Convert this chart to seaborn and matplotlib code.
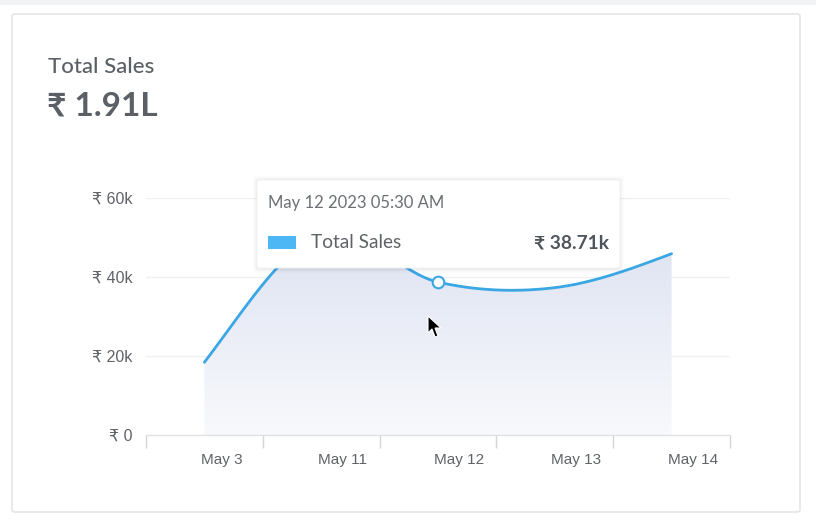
import numpy as np
import pandas as pd
import matplotlib
matplotlib.use("Agg")
import matplotlib.pyplot as plt
import matplotlib.transforms as mtransforms
from matplotlib.patches import FancyBboxPatch, Polygon, Rectangle
import seaborn as sns

# ---- data ----
dates = ["May 3", "May 11", "May 12", "May 13", "May 14"]
sales = [18400, 50700, 38710, 37300, 45900]
yticks = [0, 20000, 40000, 60000]
ytick_labels = ["₹ 0", "₹ 20k", "₹ 40k", "₹ 60k"]
title = "Total Sales"
total_label = "₹ 1.91L"
tip_date = "May 12 2023 05:30 AM"
tip_series = "Total Sales"
tip_value = "₹ 38.71k"
hover_idx = 2

sns.set_theme(style="white")
plt.rcParams["font.family"] = ["Liberation Sans", "DejaVu Sans"]
LATO = ["Lato", "DejaVu Sans"]

W, H = 816, 524
fig = plt.figure(figsize=(W / 100, H / 100), dpi=100)
fig.patch.set_facecolor("white")

def fx(x): return x / W
def fy(y): return 1 - y / H

# card & neighbouring card edges
fig.patches.append(Rectangle((0, fy(5)), 1, 5 / H, transform=fig.transFigure,
                             facecolor="#f1f2f4", edgecolor="none", zorder=-2))
fig.patches.append(FancyBboxPatch((fx(12), fy(512)), fx(800) - fx(12), fy(14) - fy(512),
                                  boxstyle="round,pad=0,rounding_size=0.004",
                                  transform=fig.transFigure, facecolor="white",
                                  edgecolor="#e3e5e8", linewidth=1.2, zorder=-1))

# axes
x0, x1, ytop, ybot = 146, 730, 198, 435
ax = fig.add_axes([fx(x0), fy(ybot), fx(x1) - fx(x0), fy(ytop) - fy(ybot)])
ax.set_facecolor("none")
ax.set_zorder(1)
n = len(dates)
xs = np.arange(n)

# smooth cubic (cardinal) rendering through the data points
y = np.array(sales, dtype=float)
m = np.zeros(n)
m[1:-1] = (y[2:] - y[:-2]) / 2
m[0] = (y[1] - y[0]) * 1.2
m[-1] = (y[-1] - y[-2]) * 1.3
sx, sy = [], []
for i in range(n - 1):
    t = np.linspace(0, 1, 50, endpoint=(i == n - 2))
    h00 = 2 * t**3 - 3 * t**2 + 1
    h10 = t**3 - 2 * t**2 + t
    h01 = -2 * t**3 + 3 * t**2
    h11 = t**3 - t**2
    sx.append(i + t)
    sy.append(h00 * y[i] + h10 * m[i] + h01 * y[i + 1] + h11 * m[i + 1])
sx = np.concatenate(sx)
sy = np.concatenate(sy)
curve = pd.DataFrame({"x": sx, "y": sy})

# gradient area fill
grad = np.linspace(0, 1, 256).reshape(-1, 1)
cmap = matplotlib.colors.LinearSegmentedColormap.from_list("g", ["#f8f9fc", "#d9dff0"])
im = ax.imshow(grad, extent=[0, n - 1, 0, 60000], origin="lower", aspect="auto",
               cmap=cmap, zorder=1)
poly = Polygon(np.column_stack([np.r_[sx, sx[-1], sx[0]], np.r_[sy, 0, 0]]),
               closed=True, transform=ax.transData, facecolor="none", edgecolor="none")
ax.add_patch(poly)
im.set_clip_path(poly)

sns.lineplot(data=curve, x="x", y="y", ax=ax, color="#3aa7e4", linewidth=2, zorder=3)
ax.set_xlabel("")
ax.set_ylabel("")
ax.set_xlim(-0.5, n - 0.5)
ax.set_ylim(0, 60000)

# grid & axes style
ax.set_yticks(yticks)
ax.set_yticklabels(ytick_labels)
for v in yticks[1:]:
    ax.axhline(v, color="#eff0f2", linewidth=1, zorder=0.5)
ax.tick_params(axis="y", length=0, pad=9.5, labelsize=11.5, labelcolor="#5f6368")
for s in ["top", "right", "left"]:
    ax.spines[s].set_visible(False)
ax.spines["bottom"].set_color("#e0e2e5")
ax.spines["bottom"].set_linewidth(1)

ax.set_xticks(xs)
ax.set_xticklabels(dates)
ax.set_xticks(np.arange(-0.5, n, 1.0), minor=True)
ax.tick_params(axis="x", which="major", bottom=False, length=0, pad=13, labelsize=11,
               labelcolor="#5f6368")
ax.tick_params(axis="x", which="minor", bottom=True, length=9, width=1, color="#d2d5d9",
               direction="out")
off = mtransforms.ScaledTranslation(-3.5 / 100, 0, fig.dpi_scale_trans)
for lab in ax.get_xticklabels():
    lab.set_horizontalalignment("left")
    lab.set_transform(lab.get_transform() + off)

# hovered point marker
sns.scatterplot(x=[xs[hover_idx]], y=[sales[hover_idx]], ax=ax, s=70, color="white",
                edgecolor="#3aa7e4", linewidth=1.5, zorder=6)

# title texts
fig.text(fx(48), fy(67), title, family=LATO, fontsize=16, color="#5a6066",
         va="center", ha="left", fontweight="medium")
fig.text(fx(47), fy(106), total_label, family=LATO, fontsize=24, color="#5a6066",
         va="center", ha="left", fontweight="bold")

# tooltip
tx0, tx1, ty0, ty1 = 257, 620, 180, 268
for k, a in enumerate([0.025, 0.018, 0.012, 0.008, 0.005]):
    d = k + 1
    fig.patches.append(FancyBboxPatch((fx(tx0 - d), fy(ty1 + d + 1)),
                                      fx(tx1 + d) - fx(tx0 - d), fy(ty0 - d) - fy(ty1 + d + 1),
                                      boxstyle="round,pad=0,rounding_size=0.006",
                                      transform=fig.transFigure, facecolor="black", alpha=a,
                                      edgecolor="none", zorder=20))
fig.patches.append(FancyBboxPatch((fx(tx0), fy(ty1)), fx(tx1) - fx(tx0), fy(ty0) - fy(ty1),
                                  boxstyle="round,pad=0,rounding_size=0.004",
                                  transform=fig.transFigure, facecolor="white",
                                  edgecolor="#f0f1f3", linewidth=0.6, zorder=21))
fig.text(fx(268), fy(203), tip_date, family=LATO, fontsize=12, color="#6b7075",
         va="center", ha="left", zorder=22)
fig.patches.append(Rectangle((fx(268), fy(249)), fx(296) - fx(268), fy(236) - fy(249),
                             transform=fig.transFigure, facecolor="#4db7f6",
                             edgecolor="none", zorder=22))
fig.text(fx(311), fy(243), tip_series, family=LATO, fontsize=13.8, color="#5f6368",
         va="center", ha="left", zorder=22)
fig.text(fx(609), fy(243), tip_value, family=LATO, fontsize=13.8, color="#4f555b",
         va="center", ha="right", fontweight="bold", zorder=22)

# mouse cursor
cur = np.array([[428, 316], [428, 333], [432, 329], [435, 337], [438, 336],
                [435, 328], [441, 328]], dtype=float)
fig.patches.append(Polygon(np.column_stack([cur[:, 0] / W, 1 - cur[:, 1] / H]), closed=True,
                           transform=fig.transFigure, facecolor="black",
                           edgecolor="white", linewidth=0.8, zorder=30))

fig.savefig("out.png", dpi=100, facecolor="white")
